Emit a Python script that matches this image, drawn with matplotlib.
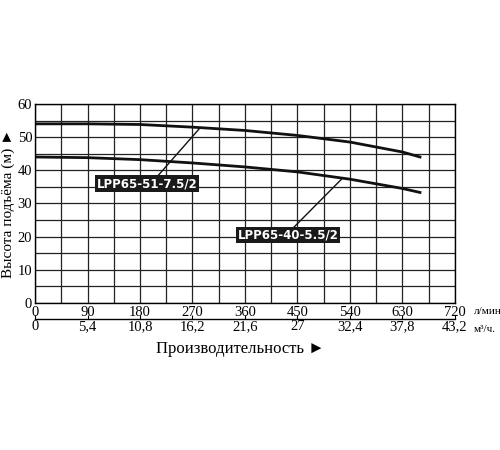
import matplotlib.pyplot as plt
import numpy as np

# curve data (flow in l/min, head in m)
flow = [0, 90, 180, 270, 360, 450, 540, 630, 660]
head_51 = [54, 54, 53.8, 53, 52, 50.5, 48.5, 45.5, 44]
head_40 = [44, 43.8, 43.2, 42.2, 41, 39.5, 37.3, 34.5, 33.3]

lpm_ticks = [0, 90, 180, 270, 360, 450, 540, 630, 720]
m3h_labels = ["0", "5,4", "10,8", "16,2", "21,6", "27", "32,4", "37,8", "43,2"]

plt.rcParams['font.family'] = ['Liberation Serif', 'DejaVu Serif']

fig = plt.figure(figsize=(5, 4.5), dpi=100)
ax = fig.add_axes([0.07, 0.327, 0.84, 0.442])

ax.set_xlim(0, 720)
ax.set_ylim(0, 60)
ax.set_xticks(lpm_ticks)
ax.set_xticks(np.arange(0, 721, 45), minor=True)
ax.set_yticks(np.arange(0, 61, 10))
ax.set_yticks(np.arange(0, 61, 5), minor=True)
ax.grid(which="both", color="#222222", linewidth=0.9)
ax.tick_params(which="both", length=0, labelsize=10.5, pad=2)
for s in ax.spines.values():
    s.set_linewidth(1.0)

ax.plot(flow, head_51, color="#111111", linewidth=2)
ax.plot(flow, head_40, color="#111111", linewidth=2)

# labels with leader lines
box = dict(boxstyle="square,pad=0.15", fc="#1a1a1a", ec="none")
ax.plot([209, 283], [38, 52.8], color="#111111", linewidth=1)
ax.text(106, 36, "LPP65-51-7.5/2", color="white", fontsize=8.5, fontweight="bold",
        family="DejaVu Sans", va="center", ha="left", bbox=box)
ax.plot([442, 526], [22.5, 37.4], color="#111111", linewidth=1)
ax.text(347, 20.5, "LPP65-40-5.5/2", color="white", fontsize=8.5, fontweight="bold",
        family="DejaVu Sans", va="center", ha="left", bbox=box)

# second flow scale in m3/h
sec = ax.secondary_xaxis(-0.08)
sec.set_xticks(lpm_ticks)
sec.set_xticklabels(m3h_labels)
sec.tick_params(direction="in", length=3, labelsize=10.5, pad=1)
sec.spines["bottom"].set_linewidth(1.0)

ax.text(1.045, -0.045, "л/мин.", transform=ax.transAxes, fontsize=8, va="center")
ax.text(1.045, -0.135, "м³/ч.", transform=ax.transAxes, fontsize=8, va="center")

ax.set_ylabel("Высота подъёма (м) ►", fontsize=11, labelpad=2)
fig.text(0.48, 0.225, "Производительность ►", fontsize=12, ha="center", va="center")

fig.savefig("out.png", dpi=100)
